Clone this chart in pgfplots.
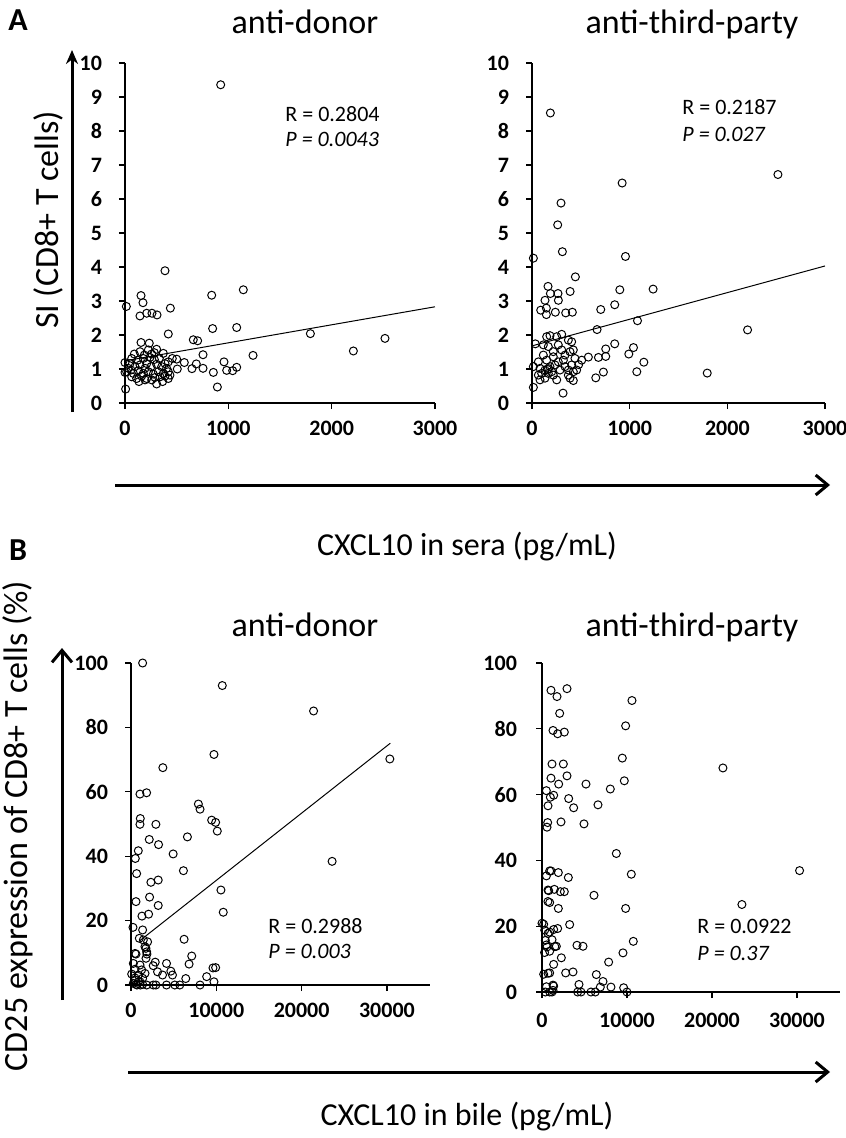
\documentclass[border=0pt]{standalone}
\usepackage{pgfplots}
\pgfplotsset{compat=1.18}
\usepackage{fontspec}
\setmainfont{Carlito}
\usetikzlibrary{arrows.meta}

\pgfplotsset{
  panel/.style={
    scale only axis, axis x line*=bottom, axis y line*=left,
    axis line style={line width=0.75pt},
    tick align=outside, major tick length=3pt,
    tick style={line width=0.6pt, black},
    ticklabel style={font=\bfseries\fontsize{11}{13}\selectfont},
    yticklabel style={xshift=-5pt},
    xticklabel style={yshift=-2.5pt},
    /pgf/number format/assume math mode=true,
    /pgf/number format/set thousands separator={},
    scaled x ticks=false,
    clip=false, anchor=south west,
    xmin=0, ymin=0,
  },
  pts/.style={only marks, mark=o, mark size=2pt, mark options={line width=0.5pt, black}},
  fit/.style={black, line width=0.5pt, no marks},
}

\begin{document}
\begin{tikzpicture}[x=0.5pt, y=-0.5pt]
\path[use as bounding box] (0,0) rectangle (845,1138);

% ---------- A: sera ----------
\begin{axis}[panel, at={(62.5pt,-201.5pt)}, width=155pt, height=170pt,
  xmax=3000, ymax=10, xtick={0,1000,2000,3000}, ytick={0,1,...,10}]
\addplot[pts] coordinates {
(926,9.36)(387,3.89)(1145,3.33)(155,3.16)(839,3.17)(174,2.95)(13,2.84)(439,2.79)
(145,2.56)(210,2.64)(261,2.64)(310,2.59)(848,2.19)(1081,2.22)(419,2.03)(1794,2.04)
(661,1.86)(703,1.83)(2516,1.90)(155,1.78)(235,1.76)(2210,1.53)(1239,1.40)(755,1.42)
(500,1.29)(574,1.19)(958,1.21)(690,1.15)(755,1.02)(648,1.01)(506,1.00)(855,0.90)
(984,0.96)(1042,0.95)(1081,1.05)(894,0.47)(6,0.41)(0,1.19)(0,0.90)
(65,1.31)(90,1.44)(145,1.51)(187,1.41)(226,1.56)(284,1.48)(306,1.58)(177,1.31)
(242,1.34)(284,1.28)(332,1.31)(458,1.31)(419,1.21)(48,1.16)(97,1.07)(145,1.12)
(194,1.02)(252,1.07)(306,1.14)(355,1.07)(403,1.02)(16,0.92)(81,0.87)(129,0.95)
(177,0.87)(226,0.92)(274,0.85)(323,0.92)(371,0.87)(419,0.92)(65,0.77)(113,0.72)
(161,0.79)(210,0.72)(258,0.68)(306,0.56)(364,0.63)(419,0.72)
(32,1.02)(58,0.97)(210,1.16)(387,1.16)(339,0.77)(387,0.79)(435,0.82)(123,1.26)
(371,1.46)(258,1.44)(194,0.68)(135,0.63)(290,0.75)
};
\addplot[fit] coordinates {(0,1.24)(3000,2.83)};
\end{axis}

\begin{axis}[panel, at={(266pt,-201.5pt)}, width=146.5pt, height=170pt,
  xmax=3000, ymax=10, xtick={0,1000,2000,3000}, ytick={0,1,...,10}]
\addplot[pts] coordinates {
(188,8.53)(2518,6.72)(923,6.47)(297,5.88)(263,5.24)(311,4.45)(957,4.31)(14,4.26)
(444,3.71)(164,3.43)(899,3.33)(1240,3.35)(188,3.22)(266,3.22)(390,3.28)(133,3.02)
(270,3.02)(847,2.89)(89,2.73)(147,2.79)(147,2.60)(239,2.67)(345,2.65)(413,2.67)
(704,2.75)(1080,2.42)(666,2.16)(2207,2.15)(1794,0.88)(34,1.74)(847,1.74)(1039,1.63)
(991,1.44)(1145,1.20)(1073,0.92)(731,0.91)(653,0.74)(318,0.29)(14,0.46)(755,1.59)
(755,1.37)(680,1.34)(577,1.35)(478,1.13)
(184,1.98)(253,1.95)(304,2.02)(372,1.85)(150,1.95)(116,1.71)(167,1.66)(218,1.51)
(218,1.36)(116,1.41)(389,1.51)(423,1.56)(440,1.31)(321,1.26)(509,1.26)(14,1.07)
(82,1.02)(133,0.97)(157,0.99)(170,1.01)(202,0.92)(287,0.97)(372,0.97)(423,0.92)
(406,1.12)(269,1.21)(65,0.82)(133,0.73)(82,0.68)(218,0.82)(372,0.82)(423,0.66)
(99,0.87)(184,1.07)(338,1.07)(235,1.12)(406,1.80)(304,1.56)(269,1.71)(150,1.26)
(65,1.21)(457,0.97)(253,0.68)(389,0.73)(167,0.87)(338,1.41)
};
\addplot[fit] coordinates {(0,1.68)(3000,4.03)};
\end{axis}

% ---------- B: bile ----------
\begin{axis}[panel, at={(65.5pt,-492.5pt)}, width=149.3pt, height=161pt,
  xmax=35000, ymax=100, xtick={0,10000,20000,30000}, ytick={0,20,...,100}]
\addplot[pts] coordinates {
(1362,100)(10700,93.0)(21400,85.1)(30340,70.2)(9725,71.6)(3734,67.5)(1050,59.3)(1828,59.7)
(7897,56.2)(8091,54.6)(9453,51.2)(9920,50.5)(10114,47.8)(1089,51.7)(1050,49.9)(2918,49.9)
(2140,45.2)(3229,43.6)(6613,46.0)(4940,40.7)(856,41.7)(506,39.3)(661,34.6)(6146,35.5)
(23573,38.4)(3190,32.6)(2334,31.9)(10542,29.5)(584,25.9)(2178,27.3)(3190,24.7)(10814,22.6)
(1284,21.4)(2062,22.0)(233,17.9)(1362,17.1)(6224,14.2)(973,14.5)(1945,13.4)(1750,11.4)
(584,9.6)(1867,9.6)(7119,9.0)(6808,6.5)(2840,7.1)(4162,6.7)(2606,6.0)(3112,4.1)
(4668,4.3)(3696,3.1)(4862,3.1)(9609,5.3)(9920,5.4)(8869,2.6)(6419,2.0)(9725,1.0)
(8091,0)(5718,0)(5135,0)(4162,0)(2918,0)
(1445,14.0)(1641,11.9)(1836,10.3)(469,9.8)(1758,8.3)(273,6.7)(1055,6.2)(469,4.9)
(1250,4.7)(1641,3.6)(78,3.4)(860,3.1)(1367,2.1)(469,1.6)(1055,1.0)(273,0.5)
(586,0.2)(1367,0.2)(1836,0)(2617,0)(469,2.2)(860,1.0)(700,0)(1100,0)
};
\addplot[fit] coordinates {(1000,13.7)(30400,75.1)};
\end{axis}

\begin{axis}[panel, at={(271pt,-496pt)}, width=148.75pt, height=164.5pt,
  xmax=35000, ymax=100, xtick={0,10000,20000,30000}, ytick={0,20,...,100},
  yticklabel style={xshift=-1pt}, xticklabel style={yshift=-1.5pt}]
\addplot[pts] coordinates {
(1058,91.7)(1764,89.8)(2940,92.2)(2078,84.7)(10584,88.6)(1294,79.5)(1842,78.5)(2626,79.0)
(9839,80.9)(1176,69.3)(2509,69.3)(9447,71.1)(21286,68.1)(1058,65.0)(2940,65.7)(1960,63.2)
(5174,63.2)(9682,64.2)(8036,61.7)(510,61.2)(1372,59.8)(980,59.2)(3136,58.8)(706,56.6)
(3724,56.0)(6586,56.9)(2234,51.7)(666,51.5)(588,50.1)(4939,51.1)(8742,42.1)(902,36.8)
(1058,36.8)(1921,36.3)(3097,34.8)(10506,35.8)(30302,36.9)(784,30.8)(1450,31.2)(2156,30.5)
(2626,30.5)(6115,29.4)(902,27.2)(1921,25.4)(9839,25.4)(23520,26.6)(196,20.6)(3254,20.5)
(1372,19.0)(1842,19.3)(902,18.2)(392,15.7)(1176,15.9)(1686,13.9)(588,13.7)(4116,14.2)
(4822,13.9)(10741,15.4)(9526,11.9)(2274,10.4)(1372,8.4)(7840,9.1)(902,5.8)(196,5.4)
(2783,5.8)(3646,6.1)(6390,5.3)(4351,2.3)(1372,1.8)(7174,3.2)(6860,1.5)(8114,1.5)
(9604,1.3)(9996,0)(4194,0)(4586,0)(5762,0)(6272,0)(392,0)(1176,0)
(517,35.3)(706,31.0)(0,20.9)(318,18.8)(706,17.8)(512,14.3)(900,12.4)(1510,13.8)
(706,5.7)(517,1.6)(1294,2.1)(900,0)(1294,0.5)(300,12)(700,27.5)
};
\end{axis}

% ---------- text and arrows ----------
\tikzset{ttl/.style={font=\fontsize{17}{20}\selectfont, anchor=base, inner sep=0},
         lab/.style={font=\fontsize{16}{19}\selectfont, inner sep=0},
         ylab/.style={font=\fontsize{17}{20}\selectfont, inner sep=0, rotate=90},
         stat/.style={font=\fontsize{11}{13}\selectfont, anchor=base west, inner sep=0}}

\node[font=\bfseries\fontsize{16}{19}\selectfont, inner sep=0] at (18,20) {A};
\node[ttl] at (305,34) {anti-donor};
\node[ttl] at (692,34) {anti-third-party};
\node[ylab] at (48,220) {SI (CD8+ T cells)};
\draw[line width=1.5pt, -{Stealth[length=7pt,width=6pt]}] (72,412) -- (72,50);
\draw[line width=1.5pt, -{Straight Barb[length=6pt,width=10pt]}] (115,485) -- (830,485);
\node[lab, anchor=base] at (467,555) {CXCL10 in sera (pg/mL)};
\node[stat] at (285,122) {R = 0.2804};
\node[stat] at (285,147) {\itshape P = 0.0043};
\node[stat] at (682,115) {R = 0.2187};
\node[stat] at (682,142) {\itshape P = 0.027};

\node[font=\bfseries\fontsize{16}{19}\selectfont, inner sep=0] at (18,550) {B};
\node[ttl] at (305,636) {anti-donor};
\node[ttl] at (692,636) {anti-third-party};
\node[ylab] at (18,826) {CD25 expression of CD8+ T cells (\%)};
\draw[line width=1.5pt, -{Straight Barb[length=6pt,width=10pt]}] (62,1000) -- (62,648);
\draw[line width=1.5pt, -{Straight Barb[length=6pt,width=10pt]}] (128,1072) -- (830,1072);
\node[lab, anchor=base] at (467,1125) {CXCL10 in bile (pg/mL)};
\node[stat] at (268,933) {R = 0.2988};
\node[stat] at (268,958) {\itshape P = 0.003};
\node[stat] at (697,933) {R = 0.0922};
\node[stat] at (697,960) {\itshape P = 0.37};
\end{tikzpicture}
\end{document}
